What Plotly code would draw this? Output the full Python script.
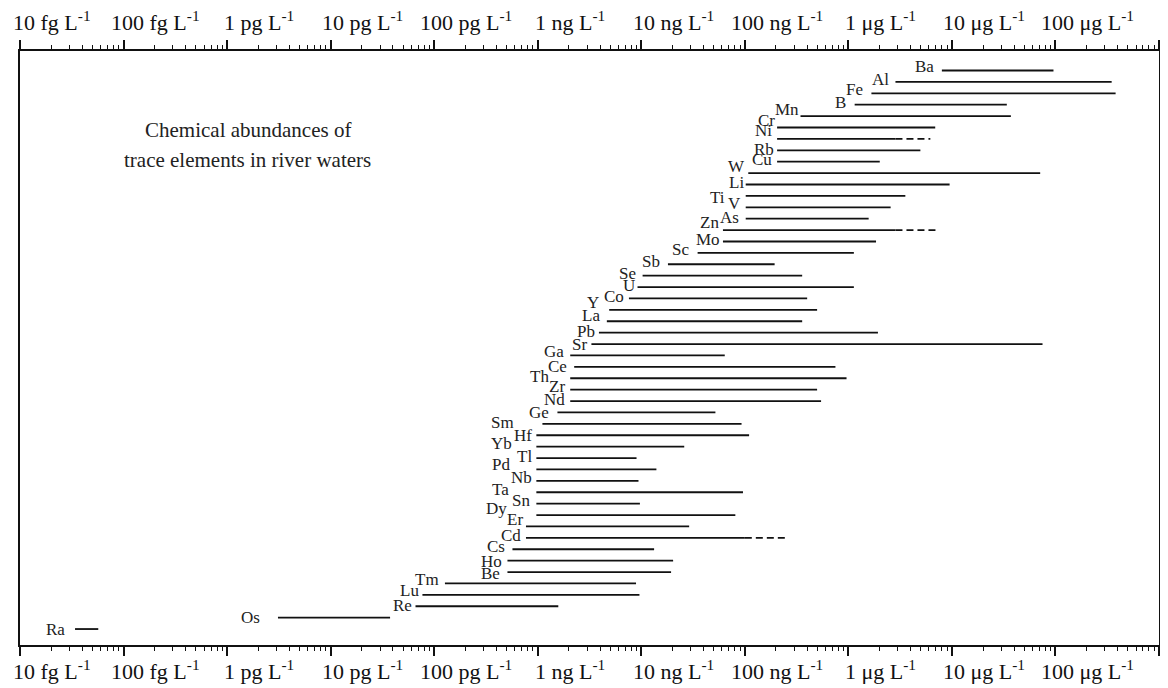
import math
import plotly.graph_objects as go

# ---------------- data (concentrations in ng/L) ----------------
elements = ["Ba", "Al", "Fe", "B", "Mn", "Cr", "Ni", "Rb", "Cu", "W",
            "Li", "Ti", "V", "As", "Zn", "Mo", "Sc", "Sb", "Se", "U",
            "Co", "Y", "La", "Pb", "Sr", "Ga", "Ce", "Th", "Zr", "Nd",
            "Ge", "Sm", "Hf", "Yb", "Tl", "Pd", "Nb", "Ta", "Sn", "Dy",
            "Er", "Cd", "Cs", "Ho", "Be", "Tm", "Lu", "Re", "Os", "Ra"]

low_ngL = [8000, 2850, 1670, 1150, 345, 205, 205, 205, 205, 108,
           102, 102, 102, 102, 61.5, 61.5, 35, 18.1, 10.3, 9.2,
           7.6, 4.9, 4.65, 3.9, 3.3, 2.06, 2.25, 2.06, 2.06, 2.06,
           1.55, 1.11, 0.97, 0.97, 0.97, 0.97, 0.97, 0.97, 0.97, 0.97,
           0.77, 0.77, 0.57, 0.51, 0.51, 0.127, 0.077, 0.066, 0.0031, 0.000034]

high_ngL = [95700, 349000, 381000, 33900, 37100, 6900, 2850, 4960, 2010, 71200,
            9500, 3550, 2560, 1570, 2850, 1850, 1130, 194, 358, 1130,
            400, 499, 358, 1930, 75000, 64, 750, 960, 499, 545,
            52, 93, 110, 26, 9.0, 14, 9.4, 96, 9.7, 81,
            29, 100, 13.3, 20.3, 19.4, 8.9, 9.6, 1.58, 0.0375, 0.000057]

# uncertain (dashed) upper extensions
dashed_elements = ["Ni", "Zn", "Cd"]
dashed_high_ngL = [6190, 7440, 255]

tick_values_ngL = [1e-5, 1e-4, 1e-3, 1e-2, 1e-1, 1, 10, 100, 1e3, 1e4, 1e5]
tick_labels = ["10 fg", "100 fg", "1 pg", "10 pg", "100 pg", "1 ng",
               "10 ng", "100 ng", "1 μg", "10 μg", "100 μg"]

title_lines = ["Chemical abundances of", "trace elements in river waters"]

# ---------------- styling ----------------
SERIF = "Liberation Serif, Times New Roman, serif"
# label nudges: (gap to line start in px, vertical offset in px, negative = up)
label_nudge = {
    "Ba": (6, -4), "Al": (4, -2), "Fe": (6, -4), "B": (7, -2), "Mn": (0, -7),
    "Cr": (0, -7), "Ni": (3, -8), "Rb": (1, -1), "Cu": (3, -2), "W": (1, -7),
    "Li": (0, -2), "Ti": (19, 2), "V": (3, -4), "As": (5, -1), "Zn": (2, -8),
    "Mo": (1, -2), "Sc": (7, -3), "Sb": (6, -3), "Se": (5, -2), "U": (1, -2),
    "Co": (3, -2), "Y": (8, -7), "La": (5, -6), "Pb": (2, -1), "Sr": (2, 0),
    "Ga": (4, -4), "Ce": (5, 0), "Th": (19, -2), "Zr": (3, -3), "Nd": (3, -2),
    "Ge": (6, 0), "Sm": (26, -1), "Hf": (2, 0), "Yb": (22, -3), "Tl": (2, -2),
    "Pd": (24, -5), "Nb": (2, -3), "Ta": (25, -3), "Sn": (4, -3), "Dy": (27, -7),
    "Er": (1, -7), "Cd": (3, -2), "Cs": (5, -3), "Ho": (3, 1), "Be": (5, 1),
    "Tm": (4, -4), "Lu": (1, -4), "Re": (2, -1), "Os": (16, 0), "Ra": (8, 0),
}

# solid ranges
xs, ys = [], []
for i, (lo, hi) in enumerate(zip(low_ngL, high_ngL)):
    xs += [lo, hi, None]
    ys += [i, i, None]

# dashed extensions
dxs, dys = [], []
for name, hi2 in zip(dashed_elements, dashed_high_ngL):
    i = elements.index(name)
    dxs += [high_ngL[i], hi2, None]
    dys += [i, i, None]

fig = go.Figure()
fig.add_trace(go.Scatter(x=xs, y=ys, mode="lines",
                         line=dict(color="#111111", width=1.8),
                         hoverinfo="skip", showlegend=False))
fig.add_trace(go.Scatter(x=dxs, y=dys, mode="lines",
                         line=dict(color="#111111", width=1.8, dash="7px,4px"),
                         hoverinfo="skip", showlegend=False))

annotations = []
for i, name in enumerate(elements):
    gap, dy = label_nudge[name]
    annotations.append(dict(
        x=math.log10(low_ngL[i]), y=i, xref="x", yref="y",
        text=name, showarrow=False, xanchor="right", yanchor="middle",
        xshift=-gap, yshift=-dy,
        font=dict(family=SERIF, size=17, color="#222222")))

for v, lab in zip(tick_values_ngL, tick_labels):
    for yp, ysh in ((1, 30), (0, -25)):
        annotations.append(dict(
            x=math.log10(v), y=yp, xref="x", yref="paper",
            text=f"{lab} L<sup>-1</sup>", showarrow=False,
            xanchor="center", yanchor="middle", xshift=32, yshift=ysh,
            font=dict(family=SERIF, size=22, color="#111111")))

for k, line in enumerate(title_lines):
    annotations.append(dict(
        x=0.2, y=0.867 - k * 0.05, xref="paper", yref="paper",
        text=line, showarrow=False, xanchor="center", yanchor="middle",
        font=dict(family=SERIF, size=21, color="#222222")))

fig.update_layout(
    width=1160, height=680,
    margin=dict(l=12, r=7, t=43, b=43),
    paper_bgcolor="white", plot_bgcolor="white",
    annotations=annotations,
    xaxis=dict(type="log", range=[-5, 6], dtick=1,
               showline=True, linecolor="#111111", linewidth=1.5,
               mirror="ticks", ticks="outside", ticklen=9, tickwidth=1.5,
               tickcolor="#111111", showticklabels=False, showgrid=False,
               zeroline=False,
               minor=dict(dtick="D1", ticks="outside", ticklen=4,
                          tickwidth=1.2, tickcolor="#111111", showgrid=False)),
    yaxis=dict(range=[50.40, -1.71], showline=True, linecolor="#111111",
               linewidth=1.5, mirror=True, ticks="", showticklabels=False,
               showgrid=False, zeroline=False),
)

fig.write_html("out.html")
